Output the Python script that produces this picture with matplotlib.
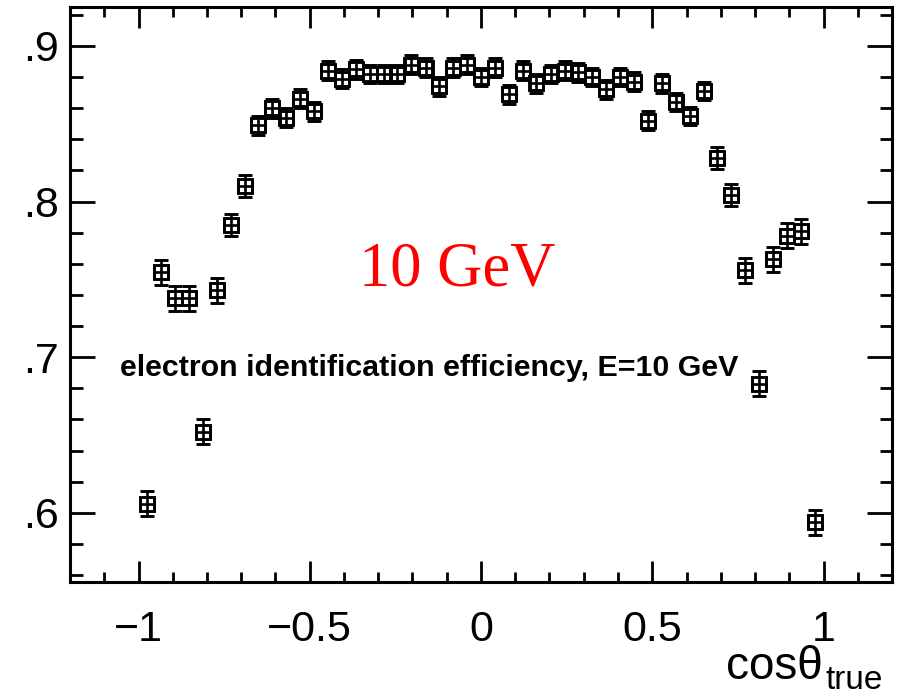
import matplotlib
matplotlib.use("Agg")
import matplotlib.pyplot as plt
from matplotlib.ticker import MultipleLocator, FixedLocator

# ---- data ----
cos_theta = [-0.974, -0.934, -0.893, -0.853, -0.812, -0.771, -0.731, -0.690,
             -0.650, -0.609, -0.568, -0.528, -0.487, -0.447, -0.406, -0.365,
             -0.325, -0.284, -0.244, -0.203, -0.162, -0.122, -0.081, -0.041,
             0.000, 0.041, 0.081, 0.122, 0.162, 0.203, 0.244, 0.284, 0.325,
             0.365, 0.406, 0.447, 0.487, 0.528, 0.568, 0.609, 0.650, 0.690,
             0.731, 0.771, 0.812, 0.853, 0.893, 0.934, 0.974]
efficiency = [0.606, 0.7545, 0.738, 0.738, 0.652, 0.743, 0.785, 0.810,
              0.849, 0.860, 0.854, 0.866, 0.858, 0.884, 0.879, 0.885,
              0.882, 0.882, 0.882, 0.888, 0.886, 0.874, 0.886, 0.888,
              0.880, 0.886, 0.869, 0.884, 0.876, 0.882, 0.884, 0.883, 0.880,
              0.872, 0.880, 0.877, 0.852, 0.876, 0.864, 0.855, 0.871, 0.828,
              0.804, 0.756, 0.683, 0.763, 0.778, 0.781, 0.594]
eff_err = [0.008, 0.008, 0.008, 0.008, 0.008, 0.008, 0.007, 0.007,
           0.006, 0.006, 0.006, 0.006, 0.006, 0.006, 0.006, 0.006,
           0.006, 0.006, 0.006, 0.006, 0.006, 0.006, 0.006, 0.006,
           0.006, 0.006, 0.006, 0.006, 0.006, 0.006, 0.006, 0.006, 0.006,
           0.006, 0.006, 0.006, 0.006, 0.006, 0.006, 0.006, 0.006, 0.007,
           0.007, 0.008, 0.008, 0.008, 0.008, 0.008, 0.008]
bin_half_width = 0.0203

x_ticks = [-1, -0.5, 0, 0.5, 1]
x_tick_labels = ["\u22121", "\u22120.5", "0", "0.5", "1"]
y_ticks = [0.6, 0.7, 0.8, 0.9]
y_tick_labels = [".6", ".7", ".8", ".9"]

plt.rcParams['font.family'] = ['Liberation Sans', 'DejaVu Sans']

fig = plt.figure(figsize=(9.01, 6.96), dpi=100)
ax = fig.add_axes([70/901, 1-582/696, (892-70)/901, (582-7)/696])

ax.errorbar(cos_theta, efficiency, yerr=eff_err, xerr=bin_half_width,
            fmt='s', markersize=10.5, markerfacecolor='none',
            markeredgecolor='black', markeredgewidth=2.1,
            ecolor='black', elinewidth=1.9, capsize=5.2, capthick=1.9,
            color='black')

ax.set_xlim(-1.2, 1.2)
ax.set_ylim(0.5556, 0.925)

ax.xaxis.set_major_locator(FixedLocator(x_ticks))
ax.set_xticklabels(x_tick_labels)
ax.xaxis.set_minor_locator(MultipleLocator(0.1))
ax.yaxis.set_major_locator(FixedLocator(y_ticks))
ax.set_yticklabels(y_tick_labels)
ax.yaxis.set_minor_locator(MultipleLocator(0.02))

for s in ax.spines.values():
    s.set_linewidth(2.2)

ax.tick_params(axis='both', which='both', direction='in', top=True, right=True,
               width=2.0, labelsize=31)
ax.tick_params(axis='y', which='major', length=18, pad=8)
ax.tick_params(axis='y', which='minor', length=9)
ax.tick_params(axis='x', which='major', length=15, pad=20)
ax.tick_params(axis='x', which='minor', length=7.5)

fig.text(457/901, 1-270/696, "10 GeV", color='red', fontsize=45,
         family='Liberation Serif', ha='center', va='center')
fig.text(120/901, 1-368/696, "electron identification efficiency, E=10 GeV",
         fontsize=21.9, fontweight='bold', ha='left', va='center')

fig.text(823/901, 1-679/696, "cos\u03b8", fontsize=33, ha='right', va='baseline')
fig.text(826/901, 1-689/696, "true", fontsize=24, ha='left', va='baseline')

fig.savefig("out.png", dpi=100)
